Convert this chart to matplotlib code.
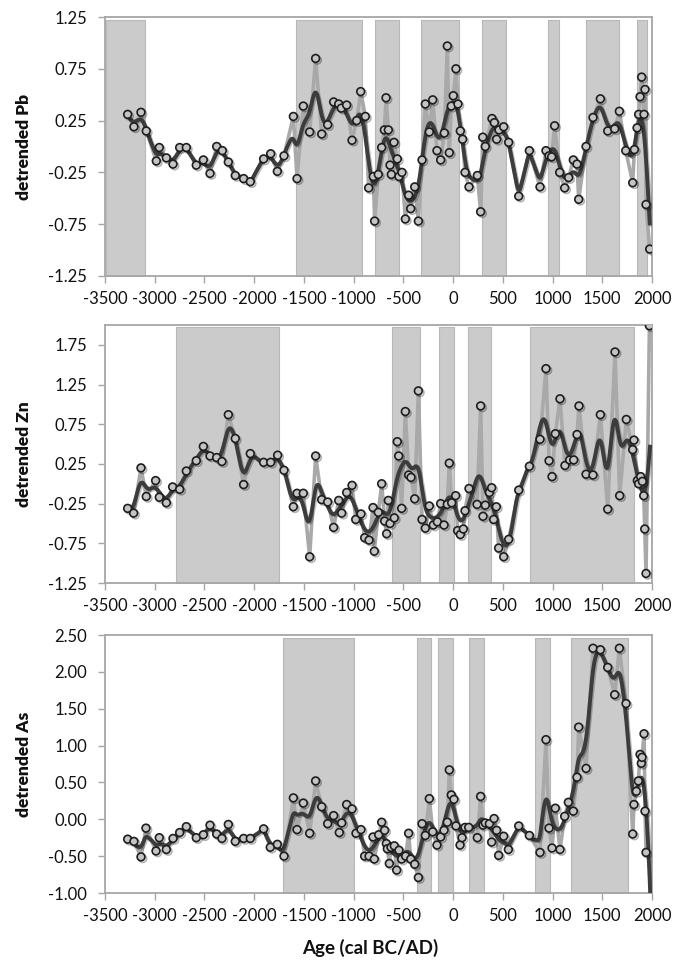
import numpy as np
import matplotlib
matplotlib.use("Agg")
import matplotlib.pyplot as plt
import matplotlib.patheffects as pe

# ---------------- data ----------------
pb_year = [-3272, -3209, -3138, -3085, -2984, -2954, -2883, -2816, -2749, -2682, -2582, -2511, -2444, -2377,
           -2320, -2260, -2190, -2106, -2039, -1905, -1834, -1767, -1700, -1606, -1569, -1506, -1442, -1382,
           -1321, -1261, -1201, -1150, -1124, -1070, -1016, -969, -929, -882, -849, -802, -789, -752, -718,
           -691, -674, -651, -634, -621, -594, -561, -544, -514, -480, -447, -426, -386, -349, -312, -279,
           -239, -205, -162, -125, -88, -58, -38, -18, 2, 29, 49, 73, 96, 120, 160, 244, 277, 298, 324, 391,
           415, 438, 462, 509, 559, 660, 767, 874, 934, 965, 991, 1021, 1072, 1122, 1162, 1209, 1246, 1263,
           1337, 1407, 1481, 1555, 1625, 1672, 1736, 1806, 1823, 1850, 1866, 1880, 1896, 1920, 1930, 1940, 1977]
pb_val = [0.31, 0.19, 0.33, 0.15, -0.14, -0.01, -0.11, -0.17, -0.01, -0.01, -0.18, -0.13, -0.26, 0.00,
          -0.04, -0.15, -0.28, -0.31, -0.34, -0.12, -0.07, -0.24, -0.09, 0.29, -0.31, 0.39, 0.14, 0.85,
          0.12, 0.21, 0.43, 0.41, 0.37, 0.40, 0.06, 0.25, 0.53, 0.29, -0.40, -0.29, -0.72, -0.27, -0.01,
          0.16, 0.47, 0.16, -0.18, -0.27, 0.04, -0.12, -0.29, -0.25, -0.70, -0.47, -0.60, -0.39, -0.72, -0.13, 0.41,
          0.14, 0.45, -0.04, -0.13, 0.13, 0.97, -0.06, 0.39, 0.49, 0.75, 0.41, 0.15, 0.07, -0.25, -0.39, -0.28, -0.63, 0.09, 0.00, 0.27,
          0.23, 0.07, 0.16, 0.19, 0.04, -0.48, -0.04, -0.39, -0.04, -0.09, -0.10, 0.20, -0.25, -0.40, -0.30, -0.13, -0.17, -0.51,
          0.00, 0.28, 0.46, 0.15, 0.17, 0.34, -0.04, -0.35, -0.03, 0.18, 0.31, 0.48, 0.67, 0.31, 0.55, -0.56, -0.99]

zn_year = [-3272, -3212, -3138, -3085, -2991, -2954, -2883, -2820, -2749, -2682, -2582, -2511, -2444, -2377,
           -2324, -2260, -2190, -2106, -2039, -1905, -1834, -1764, -1700, -1606, -1569, -1506, -1442, -1382,
           -1321, -1261, -1201, -1150, -1120, -1070, -1016, -979, -926, -889, -845, -805, -792, -752, -718,
           -688, -668, -651, -634, -591, -561, -547, -517, -480, -447, -423, -386, -349, -312, -279, -239,
           -199, -158, -125, -91, -58, -38, -14, 26, 46, 73, 103, 120, 160, 241, 277, 301, 324, 365, 388,
           408, 435, 458, 509, 559, 660, 767, 874, 934, 965, 995, 1028, 1075, 1125, 1172, 1213, 1246, 1266,
           1337, 1407, 1481, 1555, 1628, 1675, 1742, 1806, 1819, 1853, 1866, 1886, 1903, 1917, 1927, 1940, 1974]
zn_val = [-0.31, -0.37, 0.20, -0.16, 0.04, -0.17, -0.24, -0.04, -0.07, 0.16, 0.29, 0.47, 0.35, 0.33,
          0.28, 0.87, 0.57, -0.01, 0.38, 0.27, 0.27, 0.36, 0.17, -0.29, -0.12, -0.12, -0.92, 0.35,
          -0.20, -0.23, -0.55, -0.21, -0.37, -0.11, -0.02, -0.45, -0.38, -0.68, -0.71, -0.30, -0.85, -0.36, 0.00,
          -0.47, -0.63, -0.21, -0.50, -0.43, 0.53, 0.35, -0.31, 0.91, 0.11, 0.08, -0.19, 1.17, -0.45, -0.56, -0.28,
          -0.52, -0.48, -0.25, -0.52, -0.26, 0.26, -0.24, -0.15, -0.59, -0.64, -0.57, -0.34, -0.06, -0.26, 0.98, -0.41, -0.27, -0.11, -0.05,
          -0.45, -0.29, -0.81, -0.92, -0.70, -0.08, 0.22, 0.56, 1.45, 0.29, 0.09, 0.63, 1.07, 0.23, 0.30, 0.30, 0.62, 0.98,
          0.12, 0.11, 0.87, -0.32, 1.66, -0.15, 0.81, 0.43, 0.55, 0.04, 0.00, 0.09, 0.03, -0.15, -0.57, -1.13, 1.99]

as_year = [-3272, -3209, -3138, -3088, -2987, -2954, -2883, -2816, -2749, -2682, -2582, -2511, -2444, -2377,
           -2324, -2260, -2190, -2106, -2039, -1905, -1838, -1767, -1700, -1606, -1569, -1506, -1442, -1382,
           -1321, -1261, -1201, -1144, -1120, -1070, -1016, -976, -926, -889, -845, -805, -792, -748, -718,
           -688, -671, -661, -641, -624, -591, -567, -544, -517, -477, -447, -426, -386, -349, -312, -279,
           -239, -205, -162, -125, -91, -58, -38, -18, 9, 29, 70, 90, 120, 157, 244, 277, 301, 324, 365, 388,
           412, 438, 458, 509, 556, 660, 767, 874, 934, 965, 995, 1028, 1075, 1122, 1159, 1209, 1246, 1263,
           1337, 1407, 1481, 1555, 1625, 1672, 1739, 1806, 1819, 1843, 1863, 1880, 1893, 1900, 1920, 1930, 1940]
as_val = [-0.27, -0.30, -0.51, -0.12, -0.43, -0.25, -0.41, -0.26, -0.18, -0.10, -0.25, -0.21, -0.08, -0.20,
          -0.26, -0.07, -0.30, -0.26, -0.26, -0.13, -0.38, -0.34, -0.50, 0.29, -0.14, 0.22, -0.19, 0.52,
          0.17, -0.06, 0.05, -0.18, -0.05, 0.20, 0.14, -0.19, -0.14, -0.50, -0.50, -0.24, -0.54, -0.21, -0.04,
          -0.15, -0.33, -0.40, -0.60, -0.38, -0.36, -0.69, -0.42, -0.54, -0.50, -0.19, -0.54, -0.61, -0.79, -0.06, -0.22,
          0.28, -0.17, -0.35, -0.24, -0.15, -0.04, 0.67, 0.33, 0.27, -0.09, -0.35, -0.25, -0.11, -0.11, -0.25, 0.31, -0.08, -0.05, -0.06, -0.31,
          0.01, -0.15, -0.49, -0.23, -0.41, -0.09, -0.22, -0.45, 1.08, -0.12, -0.39, 0.15, -0.41, 0.04, 0.23, 0.11, 0.57, 1.25,
          0.69, 2.32, 2.30, 2.06, 1.69, 2.32, 1.57, -0.20, 0.20, 0.38, 0.52, 0.88, 0.76, 0.84, 1.16, 0.11, -0.45]

pb_zones = [(-3490, -3100), (-1580, -920), (-785, -545), (-320, 60), (295, 535), (955, 1060), (1335, 1670), (1850, 1945)]
zn_zones = [(-2790, -1750), (-615, -330), (-140, 10), (145, 385), (775, 1815)]
as_zones = [(-1710, -1000), (-365, -220), (-150, -5), (160, 310), (825, 970), (1190, 1755)]

x_ticks = list(range(-3500, 2001, 500))
pb_yticks = [-1.25, -0.75, -0.25, 0.25, 0.75, 1.25]
zn_yticks = [-1.25, -0.75, -0.25, 0.25, 0.75, 1.25, 1.75]
as_yticks = [-1.0, -0.5, 0.0, 0.5, 1.0, 1.5, 2.0, 2.5]


def local_smooth(x, y, grid, h, ridge):
    """Gaussian-weighted local linear smoother with a damped slope term."""
    x = np.asarray(x, float)
    y = np.asarray(y, float)
    out = np.empty_like(grid)
    for i, g in enumerate(grid):
        w = np.exp(-0.5 * ((x - g) / h) ** 2)
        sw = w.sum()
        mx = (w * x).sum() / sw
        my = (w * y).sum() / sw
        vx = (w * (x - mx) ** 2).sum()
        b = (w * (x - mx) * (y - my)).sum() / (vx + ridge * sw * h * h)
        out[i] = my + b * (g - mx)
    return out


plt.rcParams['font.family'] = ['Lato', 'DejaVu Sans']

W, H = 673, 966
fig = plt.figure(figsize=(W / 100, H / 100), dpi=100)

panels = [
    dict(year=pb_year, val=pb_val, zones=pb_zones, ylim=(-1.25, 1.25), yticks=pb_yticks,
         label="detrended Pb", top=17, bot=276, ztop=1.22, gend=1977, ridge=0.15),
    dict(year=zn_year, val=zn_val, zones=zn_zones, ylim=(-1.25, 2.0), yticks=zn_yticks,
         label="detrended Zn", top=325, bot=583, ztop=1.98, gend=1980, ridge=2.5),
    dict(year=as_year, val=as_val, zones=as_zones, ylim=(-1.0, 2.5), yticks=as_yticks,
         label="detrended As", top=635, bot=893, ztop=2.46, gend=1992, ridge=0.0),
]

left_px, right_px = 105, 652
for p in panels:
    ax = fig.add_axes([left_px / W, 1 - p['bot'] / H, (right_px - left_px) / W, (p['bot'] - p['top']) / H])
    ax.set_xlim(-3500, 2000)
    ax.set_ylim(*p['ylim'])
    for (a, b) in p['zones']:
        ax.fill_between([a, b], p['ylim'][0], p['ztop'], facecolor='#cbcbcb', edgecolor='#b8b8b8',
                        linewidth=0.8, zorder=1)
    x = np.array(p['year'], float)
    y = np.array(p['val'], float)
    ax.plot(x, y, color='#a9a9a9', lw=2.6, zorder=2, solid_joinstyle='round')
    grid = np.linspace(x.min(), p['gend'], 700)
    sm = local_smooth(x, y, grid, 45.0, p['ridge'])
    ax.plot(grid, sm, color='#3c3c3c', lw=2.8, zorder=3,
            path_effects=[pe.SimpleLineShadow(offset=(1, -1), shadow_color='k', alpha=0.25), pe.Normal()])
    ax.plot(x, y, linestyle='none', marker='o', markersize=5.6, markerfacecolor='#c4c4c4',
            markeredgecolor='#1e1e1e', markeredgewidth=1.2, zorder=4,
            path_effects=[pe.SimpleLineShadow(offset=(1.2, -1.2), shadow_color='k', alpha=0.3), pe.Normal()])
    ax.set_xticks(x_ticks)
    ax.set_xticklabels([str(t) for t in x_ticks])
    ax.set_yticks(p['yticks'])
    ax.set_yticklabels(["{:.2f}".format(t) for t in p['yticks']])
    for s in ax.spines.values():
        s.set_color('#a6a6a6')
        s.set_linewidth(1.3)
    ax.tick_params(axis='both', which='both', direction='out', length=5, width=1.0, color='#a6a6a6',
                   labelsize=12, labelcolor='#111111')
    ax.tick_params(axis='x', pad=6)
    ax.tick_params(axis='y', pad=8)
    ax.set_ylabel(p['label'], fontsize=12.5, fontweight='heavy', color='#111111')
    ax.yaxis.set_label_coords(-0.133, 0.5)

fig.text(370 / W, 1 - 948 / H, "Age (cal BC/AD)", ha='center', va='center', fontsize=13.5,
         fontweight='bold', color='#111111')

fig.savefig("out.png", dpi=100)
